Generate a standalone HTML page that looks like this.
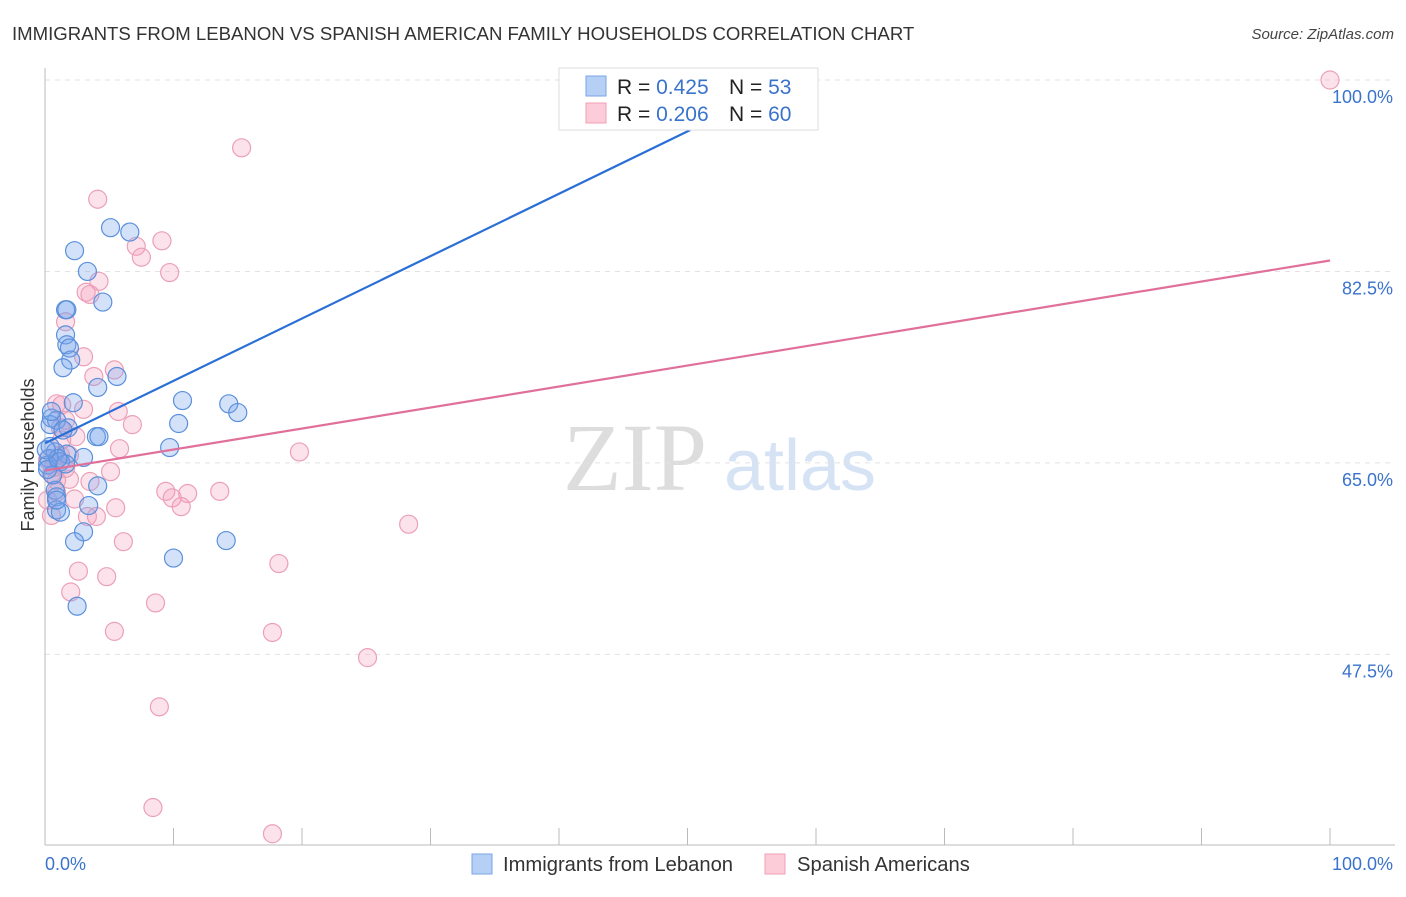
<!DOCTYPE html>
<html><head><meta charset="utf-8"><style>
body{margin:0;background:#fff;font-family:"Liberation Sans",sans-serif}
</style></head><body>
<svg id="c" width="1406" height="892" viewBox="0 0 1406 892" xmlns="http://www.w3.org/2000/svg">
<text x="12" y="40" font-size="18.6" fill="#333">IMMIGRANTS FROM LEBANON VS SPANISH AMERICAN FAMILY HOUSEHOLDS CORRELATION CHART</text>
<text x="1394" y="39" font-size="15" fill="#444" font-style="italic" text-anchor="end">Source: ZipAtlas.com</text>
<text transform="translate(34,455) rotate(-90)" font-size="18" fill="#333" text-anchor="middle">Family Households</text>
<g>
<text x="635" y="490" font-size="96" fill="#ddd" font-family="Liberation Serif,serif" text-anchor="middle">ZIP</text>
<text x="800" y="490" font-size="72" fill="#d5e3f5" text-anchor="middle">atlas</text>
</g>
<g id="grid"></g><g id="axes"></g><g id="pts"></g><g id="lines"></g>
<g>
<rect x="559" y="68" width="259" height="62" fill="#fff" stroke="#ddd"/>
<rect x="586" y="76" width="20" height="20" fill="#b5cff5" stroke="#7aa6e6"/>
<rect x="586" y="103" width="20" height="20" fill="#fcccd9" stroke="#f0a0b8"/>
<text x="617" y="94" font-size="21" fill="#222">R = <tspan fill="#3a73cc">0.425</tspan><tspan x="729">N = </tspan><tspan fill="#3a73cc">53</tspan></text>
<text x="617" y="121" font-size="21" fill="#222">R = <tspan fill="#3a73cc">0.206</tspan><tspan x="729">N = </tspan><tspan fill="#3a73cc">60</tspan></text>
</g>
<g>
<rect x="472" y="854" width="20" height="20" fill="#b5cff5" stroke="#7aa6e6"/>
<text x="503" y="871" font-size="20.2" fill="#333">Immigrants from Lebanon</text>
<rect x="765" y="854" width="20" height="20" fill="#fcccd9" stroke="#f0a0b8"/>
<text x="797" y="871" font-size="20.2" fill="#333">Spanish Americans</text>
</g>
</svg>
<script>
const yTicks=[47.5,65.0,82.5,100.0];
const yTickLabels=["47.5%","65.0%","82.5%","100.0%"];
const xTickVals=[0,10,20,30,40,50,60,70,80,90,100];
const blueX=[42.4,5.1,6.6,2.3,3.3,1.6,1.7,4.5,1.6,1.7,1.9,2.0,1.4,5.6,4.1,2.2,10.7,14.3,15.0,10.4,0.5,0.9,1.8,4.0,4.2,9.7,3.0,1.7,0.4,0.8,1.2,0.3,0.2,1.6,4.1,0.8,0.9,3.4,0.9,1.2,3.0,2.3,10.0,14.1,2.5,0.6,0.2,1.0,0.4,1.4,0.9,0.5,0.1];
const blueY=[100,86.5,86.1,84.4,82.5,79.0,79.0,79.7,76.7,75.8,75.5,74.4,73.7,72.9,71.9,70.5,70.7,70.4,69.6,68.6,69.1,68.9,68.2,67.4,67.4,66.4,65.5,65.8,66.5,66.0,65.1,65.4,64.8,64.9,62.9,62.5,61.9,61.1,60.7,60.5,58.7,57.8,56.3,57.9,51.9,63.9,64.4,65.4,68.5,68.0,61.6,69.7,66.2];
const pinkX=[100,15.3,4.1,7.1,9.1,7.5,9.7,4.2,3.2,3.5,1.6,3.0,5.4,3.8,0.9,3.0,5.7,1.3,1.2,6.8,2.4,5.8,5.1,19.8,1.9,0.5,1.6,0.9,3.5,9.4,11.1,9.9,13.6,0.9,2.3,5.5,10.6,3.3,4.0,0.5,6.1,28.3,18.2,2.6,4.8,2.0,8.6,5.4,17.7,25.1,8.9,8.4,17.7,0.2,1.2,0.2,1.9,1.3,0.7,1.6];
const pinkY=[100,93.8,89.1,84.8,85.3,83.8,82.4,81.6,80.6,80.4,77.9,74.7,73.5,72.9,70.4,69.9,69.7,70.3,68.2,68.5,67.4,66.3,64.2,66.0,63.5,64.0,64.5,63.4,63.3,62.4,62.2,61.8,62.4,62.3,61.7,60.9,61.0,60.1,60.1,60.2,57.8,59.4,55.8,55.1,54.6,53.2,52.2,49.6,49.5,47.2,42.7,33.5,31.1,65.3,65.7,61.6,65.7,67.1,64.6,68.9];
const blueFit=[66.8,0.57,50.2];
const pinkFit=[64.3,0.192,100];
const NS="http://www.w3.org/2000/svg";
const X=v=>45+v*12.85, Y=v=>80+(100-v)*10.94;
function mk(t,a,p){const e=document.createElementNS(NS,t);for(const k in a)e.setAttribute(k,a[k]);p.appendChild(e);return e;}
const grid=document.getElementById('grid'),axes=document.getElementById('axes');
yTicks.forEach((v,i)=>{const l=mk('line',{x1:45,x2:1395,y1:Y(v),y2:Y(v),stroke:'#e2e2e2','stroke-dasharray':'5,5'},grid);


const t=mk('text',{x:1393,y:Y(v)+23,'font-size':18,fill:'#3a73cc','text-anchor':'end'},axes);t.textContent=yTickLabels[i];

});
const ya=mk('line',{x1:45,x2:45,y1:68,y2:845,stroke:'#bbb'},axes);


const xa=mk('line',{x1:45,x2:1395,y1:845,y2:845,stroke:'#bbb'},axes);


xTickVals.forEach(v=>{const t=mk('line',{x1:X(v),x2:X(v),y1:828,y2:845,stroke:'#bbb'},axes);

});
const t0=mk('text',{x:45,y:870,'font-size':18,fill:'#3a73cc'},axes);t0.textContent="0.0%";


const t1=mk('text',{x:1393,y:870,'font-size':18,fill:'#3a73cc','text-anchor':'end'},axes);t1.textContent="100.0%";


const pts=document.getElementById('pts');
pinkX.forEach((x,i)=>{const c=mk('circle',{cx:X(x),cy:Y(pinkY[i]),r:9,fill:'rgba(246,160,190,0.3)',stroke:'#eca0b8','stroke-width':1.2},pts);

});
blueX.forEach((x,i)=>{const c=mk('circle',{cx:X(x),cy:Y(blueY[i]),r:9,fill:'rgba(120,165,235,0.32)',stroke:'#5a90dc','stroke-width':1.2},pts);

});
const lines=document.getElementById('lines');
const bl=mk('line',{x1:X(0),y1:Y(blueFit[0]),x2:X(blueFit[2]),y2:Y(blueFit[0]+blueFit[1]*blueFit[2]),stroke:'#2a6fd6','stroke-width':2.2},lines);


const pl=mk('line',{x1:X(0),y1:Y(pinkFit[0]),x2:X(pinkFit[2]),y2:Y(pinkFit[0]+pinkFit[1]*pinkFit[2]),stroke:'#e0709a','stroke-width':2.2},lines);


</script>
</body></html>
